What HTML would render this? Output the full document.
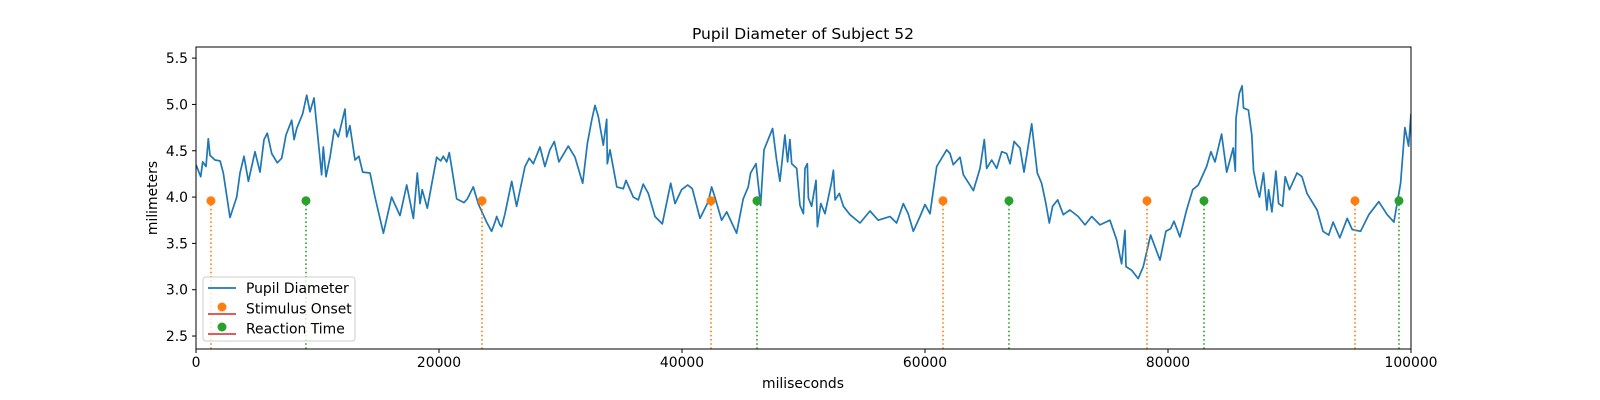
<!DOCTYPE html>
<html><head><meta charset="utf-8"><style>
body{margin:0;background:#fff;}
svg{display:block;font-family:"DejaVu Sans","Liberation Sans",sans-serif;}
</style></head><body>
<svg id="chart" width="1600" height="400" xmlns="http://www.w3.org/2000/svg"></svg>
<script>
const timeMs=[0,390,550,820,1010,1150,1560,1980,2250,2800,3350,3620,3950,4310,4860,5270,5600,5870,6230,6690,7050,7410,7880,8070,8290,8780,9110,9380,9710,10340,10480,10700,11030,11380,11710,12260,12400,12670,13090,13410,13720,14320,14730,15420,16100,16790,17340,17890,18210,18440,18620,19040,19810,20140,20350,20630,20850,21460,22060,22330,22820,23230,23920,24330,24610,24750,25020,25160,25430,25980,26390,27080,27430,27760,28310,28720,29130,29490,29870,30640,31190,31830,32210,32570,32840,33110,33520,33800,33850,34070,34630,35170,35390,35990,36400,36810,37230,37780,38380,39070,39420,39970,40470,40850,41480,42160,42440,42710,43260,43680,44490,45040,45450,45650,46090,46470,46750,47460,47790,48060,48470,48690,48880,49030,49440,49710,49990,50120,50310,50400,50670,51030,51140,51420,51770,52320,52460,52600,52950,53280,53830,54650,55470,56150,57120,57660,58210,58620,59040,59590,60000,60410,60960,61790,62060,62330,62880,63160,63980,64530,64880,65080,65490,65900,66310,66720,67000,67330,67820,68150,68370,68780,69240,69600,69950,70230,70500,70920,71380,71930,72610,73170,73720,74400,75220,75770,76180,76460,76540,77010,77550,77970,78570,79340,79830,80220,80490,80980,81530,82030,82490,83180,83530,83870,84410,84830,85370,85540,85600,85870,86100,86210,86620,86900,87040,87310,87530,87860,88140,88280,88550,88880,89100,89430,89650,90000,90620,91030,91440,92270,92760,93230,93590,94140,94750,95160,95850,96530,97350,98040,98590,99140,99500,99800,100000];
const pupilMm=[4.35,4.22,4.38,4.33,4.63,4.45,4.40,4.39,4.26,3.78,4.00,4.26,4.44,4.17,4.49,4.27,4.62,4.69,4.47,4.37,4.42,4.67,4.83,4.62,4.74,4.90,5.10,4.92,5.07,4.24,4.54,4.22,4.43,4.73,4.65,4.95,4.65,4.77,4.40,4.44,4.27,4.26,4.00,3.61,4.00,3.80,4.13,3.77,4.26,3.93,4.08,3.88,4.43,4.39,4.44,4.38,4.48,3.98,3.94,3.98,4.11,3.93,3.73,3.63,3.73,3.79,3.70,3.68,3.82,4.17,3.90,4.33,4.42,4.36,4.54,4.33,4.51,4.60,4.38,4.55,4.43,4.15,4.58,4.83,4.99,4.87,4.56,4.84,4.36,4.51,4.11,4.09,4.18,4.00,3.97,4.14,4.04,3.79,3.71,4.15,3.93,4.08,4.13,4.09,3.77,3.95,4.11,4.00,3.75,3.84,3.61,3.98,4.11,4.26,4.36,3.91,4.51,4.74,4.40,4.17,4.67,4.38,4.62,4.36,4.31,3.91,3.82,4.31,4.36,3.99,3.90,4.18,3.68,3.93,3.82,4.17,4.29,3.97,4.04,3.90,3.81,3.72,3.85,3.75,3.79,3.72,3.93,3.82,3.63,3.79,3.92,3.82,4.33,4.51,4.47,4.35,4.43,4.24,4.07,4.31,4.62,4.31,4.40,4.31,4.49,4.47,4.36,4.60,4.53,4.27,4.45,4.79,4.26,4.15,3.93,3.72,3.90,3.97,3.81,3.86,3.79,3.70,3.79,3.70,3.75,3.54,3.28,3.64,3.25,3.21,3.12,3.25,3.59,3.32,3.63,3.66,3.74,3.57,3.86,4.08,4.13,4.33,4.49,4.38,4.68,4.27,4.53,4.28,4.85,5.12,5.20,4.96,4.94,4.67,4.29,4.11,4.00,4.26,3.86,4.08,3.84,4.28,3.93,3.90,4.22,4.08,4.26,4.22,4.04,3.86,3.63,3.59,3.73,3.56,3.77,3.65,3.63,3.81,3.95,3.81,3.73,4.15,4.75,4.55,4.90];
const stimulusMs=[1230,23540,42390,61480,78270,95390];
const reactionMs=[9050,46170,66910,82960,99010];
const eventLevel=3.96;
const xTicks=[0,20000,40000,60000,80000,100000];
const yTicks=[2.5,3.0,3.5,4.0,4.5,5.0,5.5];

const L=196,R=1411,T=47,B=349,XMIN=0,XMAX=100000,YMIN=2.36,YMAX=5.62;
const sx=v=>L+(v-XMIN)/(XMAX-XMIN)*(R-L);
const sy=v=>B-(v-YMIN)/(YMAX-YMIN)*(B-T);
const NS="http://www.w3.org/2000/svg";
const svg=document.getElementById('chart');
function mk(tag,attrs,parent){const e=document.createElementNS(NS,tag);for(const k in attrs)e.setAttribute(k,attrs[k]);(parent||svg).appendChild(e);return e;}

let t=mk('text',{x:803,y:39,'text-anchor':'middle','font-size':15.5,fill:'#000'});t.textContent='Pupil Diameter of Subject 52';


t=mk('text',{x:803,y:388,'text-anchor':'middle','font-size':13.9,fill:'#000'});t.textContent='miliseconds';


t=mk('text',{x:0,y:0,'text-anchor':'middle','font-size':13.9,fill:'#000',transform:'translate(157,198) rotate(-90)'});t.textContent='milimeters';



xTicks.forEach(v=>{
  const x=sx(v);
  const tk=mk('line',{x1:x,x2:x,y1:B,y2:B+4,stroke:'#000','stroke-width':1});
  
  
  const lb=mk('text',{x:x,y:B+18,'text-anchor':'middle','font-size':13.9,fill:'#000'});lb.textContent=String(v);
  
  
});
yTicks.forEach(v=>{
  const y=sy(v);
  const tk=mk('line',{x1:L-4,x2:L,y1:y,y2:y,stroke:'#000','stroke-width':1});
  
  
  const lb=mk('text',{x:L-8,y:y+5,'text-anchor':'end','font-size':13.9,fill:'#000'});lb.textContent=v.toFixed(1);
  
  
});

const clip=mk('clipPath',{id:'pc'});mk('rect',{x:L,y:T,width:R-L,height:B-T},clip);
let d='';timeMs.forEach((v,i)=>{d+=(i?'L':'M')+sx(v).toFixed(1)+','+sy(pupilMm[i]).toFixed(1);});
const line=mk('path',{d:d,fill:'none',stroke:'#1f77b4','stroke-width':1.7,'stroke-linejoin':'round','clip-path':'url(#pc)'});



function stems(arr,color,name){
  arr.forEach(v=>{
    const x=sx(v);
    const s=mk('line',{x1:x,x2:x,y1:B,y2:sy(eventLevel),stroke:color,'stroke-width':1.6,'stroke-dasharray':'1.6,2.6'});
    
    
    const c=mk('circle',{cx:x,cy:sy(eventLevel),r:4.5,fill:color});
    
    
  });
}
stems(stimulusMs,'#ff7f0e','stimulus-onset');
stems(reactionMs,'#2ca02c','reaction-time');

const fr=mk('rect',{x:L,y:T,width:R-L,height:B-T,fill:'none',stroke:'#000','stroke-width':1});



const lg=mk('g',{});


mk('rect',{x:203,y:277,width:152,height:64,rx:3,fill:'#fff','fill-opacity':0.8,stroke:'#ccc','stroke-width':1},lg);
const e1=mk('line',{x1:208,x2:236,y1:288,y2:288,stroke:'#1f77b4','stroke-width':1.7},lg);


let lt=mk('text',{x:246,y:293,'font-size':13.9,fill:'#000'},lg);lt.textContent='Pupil Diameter';


mk('line',{x1:208,x2:236,y1:314,y2:314,stroke:'#d62728','stroke-width':1.6},lg);
mk('circle',{cx:222,cy:307,r:4.5,fill:'#ff7f0e'},lg);
lt=mk('text',{x:246,y:313.5,'font-size':13.9,fill:'#000'},lg);lt.textContent='Stimulus Onset';


mk('line',{x1:208,x2:236,y1:334,y2:334,stroke:'#d62728','stroke-width':1.6},lg);
mk('circle',{cx:222,cy:327,r:4.5,fill:'#2ca02c'},lg);
lt=mk('text',{x:246,y:333.5,'font-size':13.9,fill:'#000'},lg);lt.textContent='Reaction Time';


</script>
</body></html>
